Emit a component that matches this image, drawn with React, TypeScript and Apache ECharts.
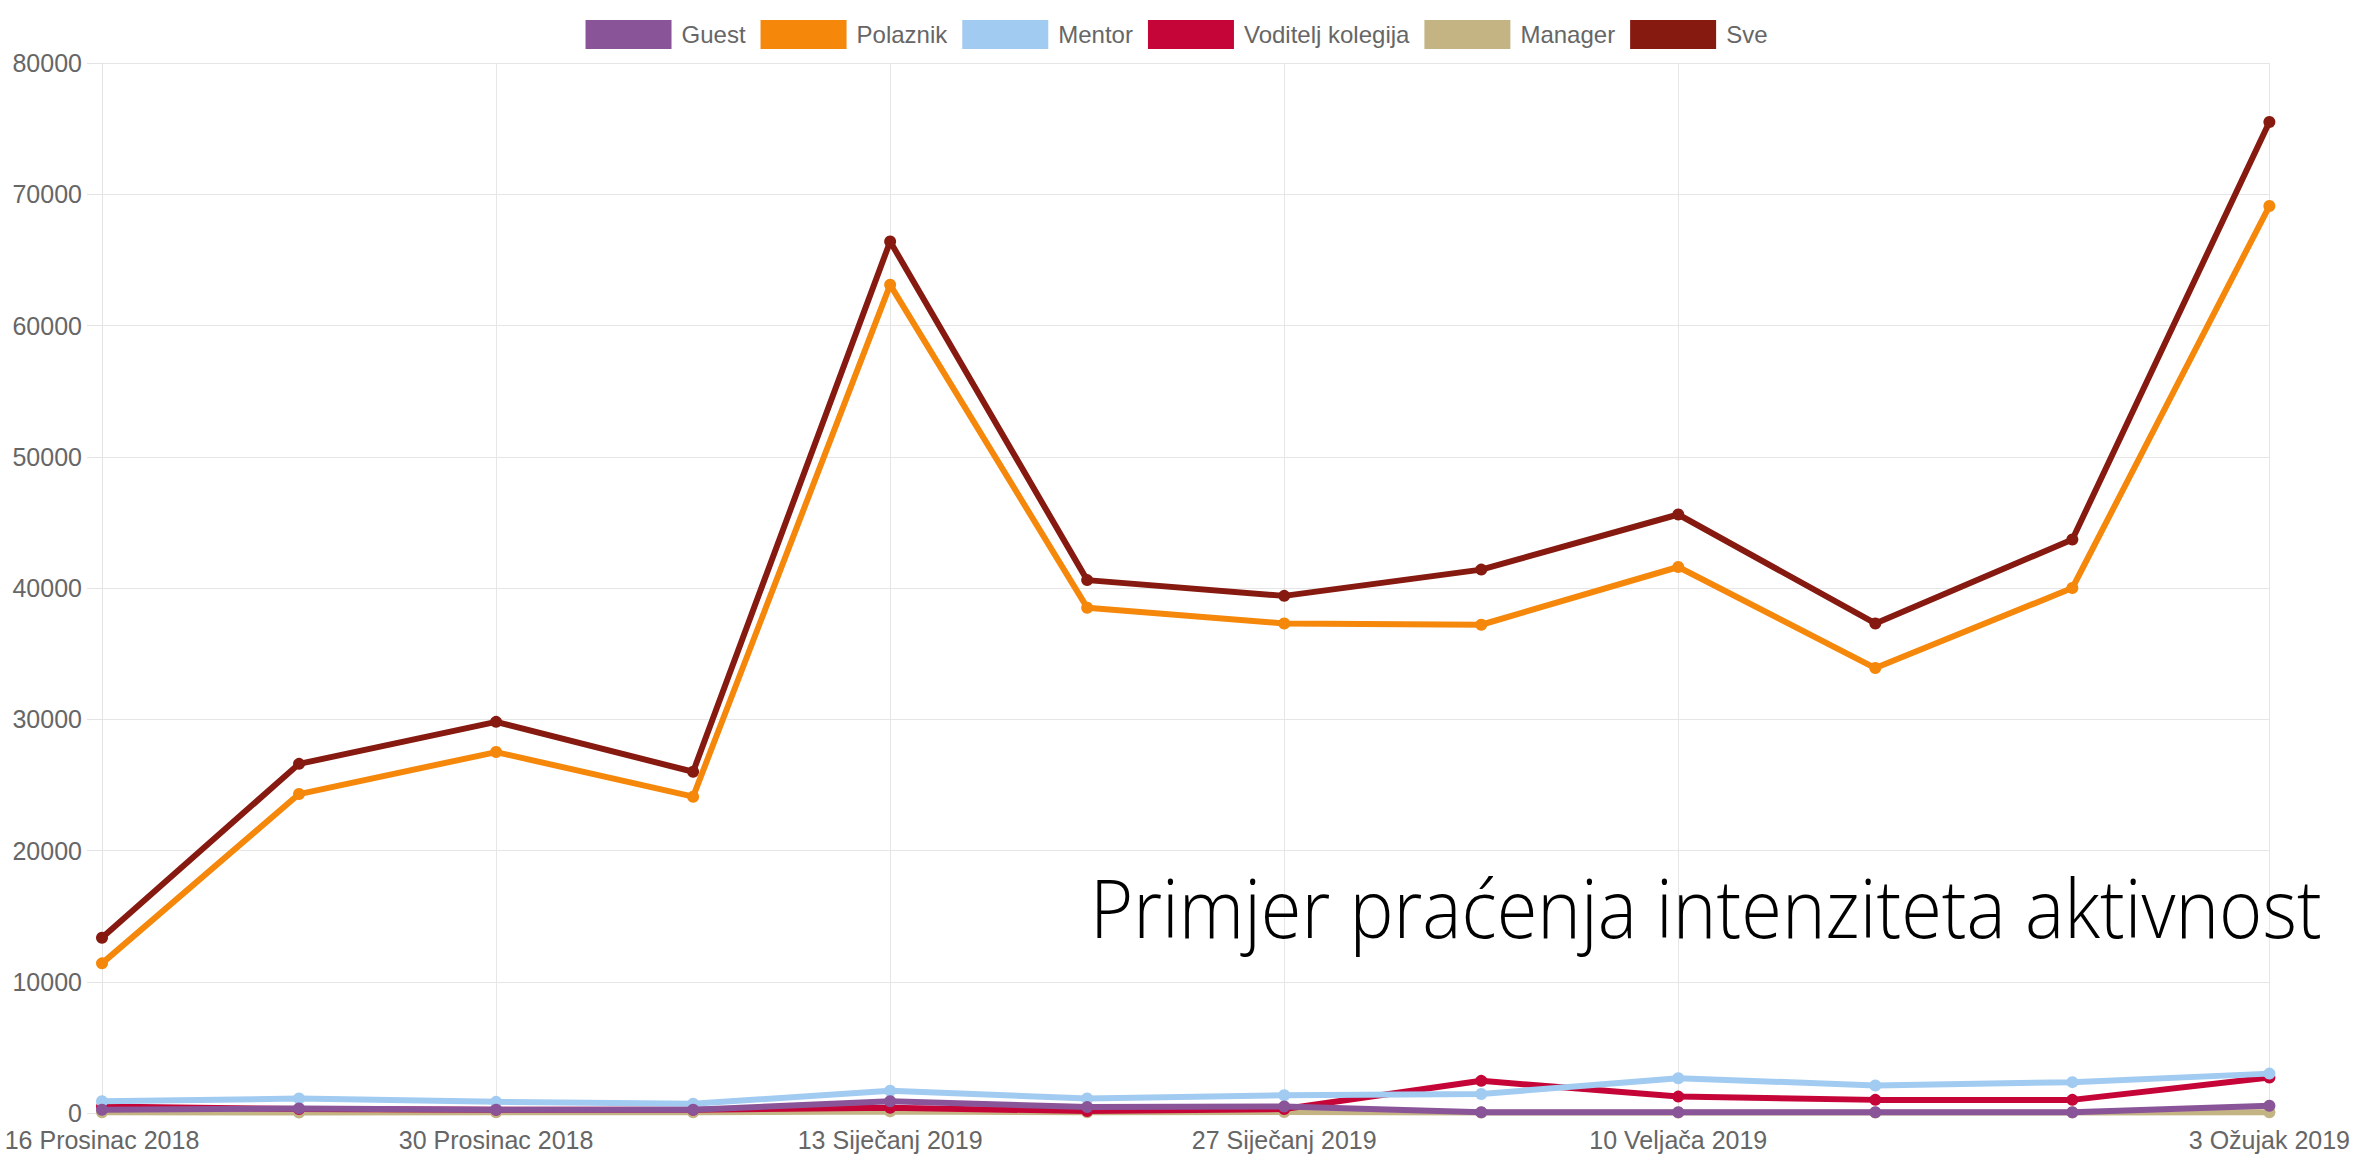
import React, { useEffect, useRef } from "react";
import * as echarts from "echarts";

const categories = [
  "16 Prosinac 2018",
  "23 Prosinac 2018",
  "30 Prosinac 2018",
  "6 Siječanj 2019",
  "13 Siječanj 2019",
  "20 Siječanj 2019",
  "27 Siječanj 2019",
  "3 Veljača 2019",
  "10 Veljača 2019",
  "17 Veljača 2019",
  "24 Veljača 2019",
  "3 Ožujak 2019",
];
const shownLabels = [0, 2, 4, 6, 8, 11];

const guest = [250, 350, 250, 250, 900, 450, 500, 60, 60, 60, 60, 550];
const polaznik = [11400, 24300, 27500, 24100, 63100, 38500, 37300, 37200, 41600, 33900, 40000, 69100];
const mentor = [900, 1100, 850, 700, 1700, 1100, 1350, 1450, 2650, 2100, 2350, 3000];
const voditelj = [500, 300, 250, 250, 400, 150, 300, 2450, 1250, 1000, 1000, 2700];
const manager = [50, 40, 60, 50, 120, 60, 80, 40, 30, 40, 30, 60];
const sve = [13350, 26600, 29800, 26000, 66400, 40600, 39400, 41400, 45600, 37300, 43700, 75500];

const seriesNames = ["Guest", "Polaznik", "Mentor", "Voditelj kolegija", "Manager", "Sve"];
const seriesData = [guest, polaznik, mentor, voditelj, manager, sve];
const seriesColors = ["#8a5499", "#f5870a", "#a2cbf1", "#c50537", "#c4b483", "#861a10"];

const yTicks = { min: 0, max: 80000, interval: 10000 };
const titleText = "Primjer praćenja intenziteta aktivnost";

export default function App() {
  const ref = useRef<HTMLDivElement>(null);
  useEffect(() => {
    document.body.style.margin = "0";
    const chart = echarts.init(ref.current!, null, { renderer: "svg" });
    const font = "'Liberation Sans', Arial, Helvetica, sans-serif";
    const series = seriesNames
      .map((name, i) => ({
        name,
        type: "line",
        data: seriesData[i],
        symbol: "circle",
        symbolSize: 12,
        showSymbol: true,
        lineStyle: { width: 6, color: seriesColors[i] },
        itemStyle: { color: seriesColors[i] },
        z: 10 - i,
        emphasis: { disabled: true },
      }))
      .reverse();
    chart.setOption({
      animation: false,
      backgroundColor: "#ffffff",
      grid: { left: 102, right: 81, top: 63, bottom: 46, containLabel: false },
      legend: {
        data: seriesNames.map((n, i) => ({ name: n, itemStyle: { color: seriesColors[i] } })),
        top: 15,
        left: "center",
        icon: "rect",
        itemWidth: 86,
        itemHeight: 29,
        itemGap: 15,
        textStyle: { fontFamily: font, fontSize: 24, color: "#666666", padding: [0, 0, 0, 5] },
      },
      xAxis: {
        type: "category",
        data: categories,
        boundaryGap: false,
        axisLine: { show: true, lineStyle: { color: "#e3e3e3", width: 1 } },
        axisTick: { show: false },
        axisLabel: {
          interval: (idx: number) => shownLabels.includes(idx),
          fontFamily: font,
          fontSize: 25,
          color: "#666666",
          margin: 14,
        },
        splitLine: {
          show: true,
          interval: (idx: number) => shownLabels.includes(idx),
          lineStyle: { color: "#e6e6e6", width: 1 },
        },
      },
      yAxis: {
        type: "value",
        min: yTicks.min,
        max: yTicks.max,
        interval: yTicks.interval,
        axisLine: { show: true, lineStyle: { color: "#e3e3e3", width: 1 } },
        axisTick: { show: true, length: 15, lineStyle: { color: "#e3e3e3" } },
        axisLabel: {
          fontFamily: font,
          fontSize: 25,
          color: "#666666",
          margin: 20,
          formatter: (v: number) => String(v),
        },
        splitLine: { show: true, lineStyle: { color: "#e6e6e6", width: 1 } },
      },
      series,
      graphic: [
        {
          type: "text",
          x: 1090,
          y: 866,
          scaleY: 1.1,
          z: 100,
          style: {
            text: titleText,
            fontFamily: "'Open Sans', 'Noto Sans', sans-serif",
            fontWeight: 300,
            fontSize: 74,
            fill: "#000000",
            verticalAlign: "top",
            align: "left",
          },
        },
      ],
    });
    return () => chart.dispose();
  }, []);
  return <div ref={ref} style={{ position: "fixed", left: 0, top: 0, width: 2353, height: 1159 }} />;
}
